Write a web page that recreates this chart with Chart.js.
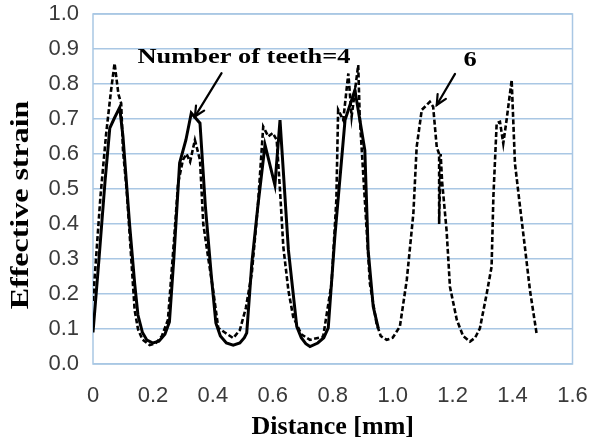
<!DOCTYPE html>
<html><head><meta charset="utf-8">
<script src="https://cdn.jsdelivr.net/npm/chart.js@4"></script>
<style>html,body{margin:0;padding:0;background:#fff}#wrap{width:589px;height:438px}</style>
</head><body><div id="wrap"><canvas id="c" width="589" height="438"></canvas></div>
<script>
// Number of teeth = 4 (solid)
const teeth4X = [0, 0.02, 0.04, 0.056, 0.07, 0.089, 0.1, 0.122, 0.139, 0.15, 0.165, 0.18, 0.2, 0.22, 0.24, 0.255, 0.27, 0.289, 0.31, 0.328, 0.357, 0.375, 0.395, 0.41, 0.425, 0.445, 0.468, 0.49, 0.505, 0.513, 0.53, 0.55, 0.574, 0.607, 0.624, 0.652, 0.68, 0.695, 0.71, 0.724, 0.75, 0.77, 0.785, 0.807, 0.841, 0.874, 0.907, 0.918, 0.935, 0.952];
const teeth4Y = [0.09, 0.3, 0.52, 0.674, 0.70, 0.733, 0.65, 0.40, 0.23, 0.14, 0.09, 0.068, 0.06, 0.065, 0.085, 0.12, 0.305, 0.574, 0.64, 0.717, 0.688, 0.45, 0.25, 0.117, 0.08, 0.06, 0.054, 0.06, 0.075, 0.089, 0.288, 0.45, 0.626, 0.511, 0.697, 0.326, 0.107, 0.075, 0.058, 0.05, 0.06, 0.075, 0.103, 0.364, 0.697, 0.783, 0.611, 0.326, 0.164, 0.102];
// Number of teeth = 6 (dashed)
const teeth6X = [0, 0.01, 0.025, 0.044, 0.06, 0.072, 0.085, 0.094, 0.1, 0.112, 0.122, 0.139, 0.15, 0.165, 0.189, 0.21, 0.23, 0.25, 0.27, 0.284, 0.30, 0.312, 0.324, 0.34, 0.357, 0.368, 0.385, 0.401, 0.418, 0.44, 0.468, 0.49, 0.51, 0.53, 0.55, 0.568, 0.585, 0.6, 0.613, 0.624, 0.635, 0.652, 0.668, 0.695, 0.724, 0.768, 0.796, 0.812, 0.818, 0.835, 0.852, 0.863, 0.885, 0.89, 0.907, 0.924, 0.946, 0.96, 0.98, 1.0, 1.024, 1.047, 1.069, 1.08, 1.097, 1.124, 1.135, 1.147, 1.155, 1.155, 1.16, 1.165, 1.18, 1.191, 1.214, 1.235, 1.258, 1.275, 1.291, 1.314, 1.33, 1.336, 1.347, 1.358, 1.369, 1.38, 1.397, 1.408, 1.425, 1.441, 1.458, 1.48];
const teeth6Y = [0.18, 0.3, 0.48, 0.659, 0.78, 0.859, 0.77, 0.745, 0.611, 0.5, 0.374, 0.154, 0.1, 0.07, 0.054, 0.06, 0.08, 0.126, 0.35, 0.517, 0.583, 0.60, 0.578, 0.64, 0.583, 0.40, 0.30, 0.21, 0.103, 0.09, 0.074, 0.097, 0.16, 0.26, 0.45, 0.678, 0.65, 0.66, 0.64, 0.497, 0.335, 0.21, 0.135, 0.085, 0.069, 0.078, 0.23, 0.469, 0.726, 0.697, 0.83, 0.707, 0.854, 0.707, 0.469, 0.23, 0.116, 0.08, 0.069, 0.075, 0.107, 0.24, 0.43, 0.62, 0.726, 0.749, 0.735, 0.62, 0.60, 0.40, 0.60, 0.52, 0.38, 0.221, 0.126, 0.08, 0.064, 0.075, 0.102, 0.202, 0.278, 0.478, 0.688, 0.692, 0.63, 0.697, 0.811, 0.573, 0.449, 0.335, 0.211, 0.088];

const xTickValues = [0, 0.2, 0.4, 0.6, 0.8, 1.0, 1.2, 1.4, 1.6];
const xTickLabels = ["0", "0.2", "0.4", "0.6", "0.8", "1.0", "1.2", "1.4", "1.6"];
const yTickValues = [0, 0.1, 0.2, 0.3, 0.4, 0.5, 0.6, 0.7, 0.8, 0.9, 1.0];
const yTickLabels = ["0.0", "0.1", "0.2", "0.3", "0.4", "0.5", "0.6", "0.7", "0.8", "0.9", "1.0"];

const xTitle = "Distance [mm]";
const yTitle = "Effective strain";

// annotation labels and arrows (data units)
const noteTexts = ["Number of teeth=4", "6"];
const noteX = [0.504, 1.258];
const noteY = [0.877, 0.869];
const arrowFromX = [0.429, 1.208];
const arrowFromY = [0.831, 0.829];
const arrowToX = [0.34, 1.147];
const arrowToY = [0.707, 0.74];

const GRID = '#a9c7e4';
const SERIF = "'Liberation Serif', 'Times New Roman', serif";
const SANS = "'Liberation Sans', Arial, sans-serif";

const toPts = (xs, ys) => xs.map((x, i) => ({x, y: ys[i]}));

const framePlugin = {
  id: 'frame',
  beforeDatasetsDraw(chart) {
    const a = chart.chartArea, ctx = chart.ctx;
    ctx.save();
    ctx.strokeStyle = GRID; ctx.lineWidth = 1.5;
    ctx.strokeRect(a.left, a.top, a.right - a.left, a.bottom - a.top);
    ctx.restore();
  }
};

const notesPlugin = {
  id: 'notes',
  afterDatasetsDraw(chart) {
    const ctx = chart.ctx, xs = chart.scales.x, ys = chart.scales.y;
    ctx.save();
    ctx.fillStyle = '#000';
    ctx.font = "bold 22px " + SERIF;
    ctx.textAlign = 'center';
    ctx.textBaseline = 'middle';
    noteTexts.forEach((t, i) => {
      ctx.save();
      ctx.translate(xs.getPixelForValue(noteX[i]), ys.getPixelForValue(noteY[i]));
      ctx.scale(1.2, 1);
      ctx.fillText(t, 0, 0);
      ctx.restore();
    });
    ctx.strokeStyle = '#000'; ctx.lineWidth = 2.2; ctx.lineCap = 'round';
    arrowFromX.forEach((_, i) => {
      const x1 = xs.getPixelForValue(arrowFromX[i]), y1 = ys.getPixelForValue(arrowFromY[i]);
      const x2 = xs.getPixelForValue(arrowToX[i]), y2 = ys.getPixelForValue(arrowToY[i]);
      const ang = Math.atan2(y2 - y1, x2 - x1), L = 11, w = 0.45;
      ctx.beginPath(); ctx.moveTo(x1, y1); ctx.lineTo(x2, y2); ctx.stroke();
      ctx.beginPath();
      ctx.moveTo(x2 - L * Math.cos(ang - w), y2 - L * Math.sin(ang - w));
      ctx.lineTo(x2, y2);
      ctx.lineTo(x2 - L * Math.cos(ang + w), y2 - L * Math.sin(ang + w));
      ctx.stroke();
    });
    // y axis title
    ctx.save();
    ctx.font = "bold 26px " + SERIF;
    ctx.textAlign = 'center'; ctx.textBaseline = 'alphabetic';
    ctx.translate(28, (chart.chartArea.top + chart.chartArea.bottom) / 2 + 16);
    ctx.rotate(-Math.PI / 2);
    ctx.scale(1.23, 1);
    ctx.fillText(yTitle, 0, 0);
    ctx.restore();
    ctx.restore();
  }
};

new Chart(document.getElementById('c'), {
  type: 'scatter',
  data: {
    datasets: [
      { label: 'Number of teeth=4', data: toPts(teeth4X, teeth4Y), showLine: true, borderColor: '#000', borderWidth: 3, pointRadius: 0, tension: 0, order: 1 },
      { label: '6', data: toPts(teeth6X, teeth6Y), showLine: true, borderColor: '#000', borderWidth: 2.6, borderDash: [5, 2.5], pointRadius: 0, tension: 0, order: 2 }
    ]
  },
  options: {
    responsive: false, animation: false, devicePixelRatio: 1,
    layout: { padding: { top: 14, right: 16.5, left: 0, bottom: 0 } },
    plugins: { legend: { display: false }, tooltip: { enabled: false } },
    scales: {
      x: {
        type: 'linear', min: 0, max: 1.6,
        afterBuildTicks: s => { s.ticks = xTickValues.map(v => ({value: v})); },
        afterFit: s => { s.height = 74; s.paddingLeft = 0; s.paddingRight = 0; },
        grid: { display: false, drawTicks: false },
        border: { display: false },
        ticks: { padding: 19, color: '#3a3a3a', font: { family: SANS, size: 22 }, maxRotation: 0, callback: (v, i) => xTickLabels[i] },
        title: { display: true, text: xTitle, color: '#000', font: { family: SERIF, size: 26, weight: 'bold', lineHeight: 0.8 }, padding: { top: 0, bottom: 0 } }
      },
      y: {
        type: 'linear', min: 0, max: 1,
        afterBuildTicks: s => { s.ticks = yTickValues.map(v => ({value: v})); },
        afterFit: s => { s.width = 93; s.paddingTop = 0; s.paddingBottom = 0; },
        grid: { color: GRID, lineWidth: 1.5, drawTicks: false },
        border: { display: false },
        ticks: { padding: 14, color: '#3a3a3a', font: { family: SANS, size: 22 }, callback: (v, i) => yTickLabels[i] }
      }
    }
  },
  plugins: [framePlugin, notesPlugin]
});
</script>
</body></html>
